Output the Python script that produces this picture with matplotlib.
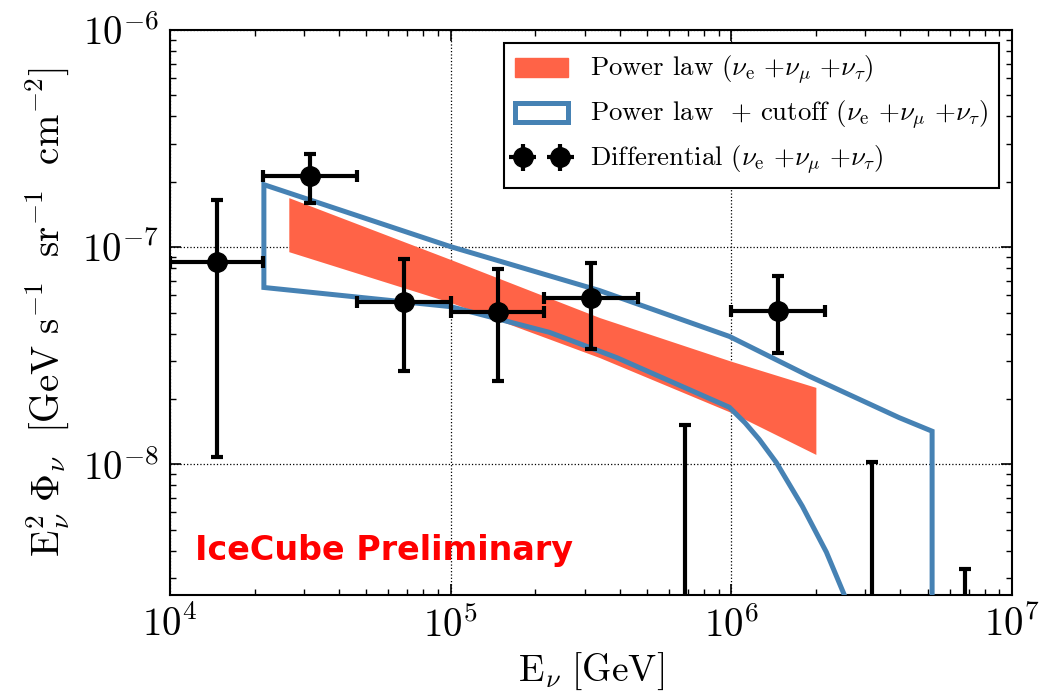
import matplotlib
matplotlib.use("Agg")
import matplotlib.pyplot as plt
import numpy as np
from matplotlib.patches import Patch

plt.rcParams['font.family'] = 'serif'
plt.rcParams['font.serif'] = ['cmr10', 'DejaVu Serif']
plt.rcParams['mathtext.fontset'] = 'cm'
plt.rcParams['axes.unicode_minus'] = False
plt.rcParams['axes.formatter.use_mathtext'] = True

# differential flux points (3 bins per decade)
bin_lo = [1.0e4, 2.15e4, 4.64e4, 1.0e5, 2.15e5, 1.0e6]
bin_hi = [2.15e4, 4.64e4, 1.0e5, 2.15e5, 4.64e5, 2.15e6]
pt_e = [1.47e4, 3.16e4, 6.81e4, 1.47e5, 3.16e5, 1.47e6]
pt_flux = [8.57e-8, 2.13e-7, 5.61e-8, 5.05e-8, 5.86e-8, 5.10e-8]
pt_up = [1.64e-7, 2.69e-7, 8.85e-8, 7.96e-8, 8.49e-8, 7.39e-8]
pt_down = [1.08e-8, 1.60e-7, 2.70e-8, 2.41e-8, 3.41e-8, 3.27e-8]

# upper limits
ul_e = [6.81e5, 3.16e6, 6.81e6]
ul_flux = [1.51e-8, 1.02e-8, 3.29e-9]

# power law band edges
pl_e = [2.65e4, 1.0e5, 3.39e5, 1.0e6, 2.0e6]
pl_hi = [1.69e-7, 8.77e-8, 4.74e-8, 2.98e-8, 2.26e-8]
pl_lo = [9.53e-8, 5.56e-8, 3.10e-8, 1.73e-8, 1.11e-8]

# power law + cutoff contour
cut_up_e = [2.16e4, 1.0e5, 3.39e5, 9.84e5, 1.90e6, 3.96e6, 5.19e6]
cut_up_f = [1.94e-7, 1.005e-7, 6.31e-8, 3.88e-8, 2.54e-8, 1.64e-8, 1.42e-8]
cut_lo_e = [2.16e4, 1.0e5, 2.25e5, 3.90e5, 9.84e5, 1.12e6, 1.258e6, 1.445e6, 1.79e6, 2.18e6, 2.52e6, 2.75e6]
cut_lo_f = [6.52e-8, 5.32e-8, 4.05e-8, 3.10e-8, 1.83e-8, 1.55e-8, 1.30e-8, 1.02e-8, 6.41e-9, 3.94e-9, 2.52e-9, 1.8e-9]

red = '#ff6347'
blue = '#4682b4'

fig = plt.figure(figsize=(10.54, 6.96), dpi=100)
ax = fig.add_axes([0.1613, 0.1451, 0.7989, 0.8118])

ax.fill_between(pl_e, pl_lo, pl_hi, color=red, lw=0, zorder=2)

poly_e = cut_lo_e + [5.19e6] + cut_up_e[::-1]
poly_f = cut_lo_f + [1.8e-9] + cut_up_f[::-1]
ax.fill(poly_e, poly_f, facecolor='none', edgecolor=blue, lw=3.6, zorder=3)

eb = dict(color='k', ms=14, elinewidth=3.0, capsize=4.5, capthick=3.0)
xerr = [np.array(pt_e) - np.array(bin_lo), np.array(bin_hi) - np.array(pt_e)]
yerr = [np.array(pt_flux) - np.array(pt_down), np.array(pt_up) - np.array(pt_flux)]
ax.errorbar(pt_e, pt_flux, xerr=xerr, yerr=yerr, fmt='o', zorder=5, **eb)

ul_lo = np.array(ul_flux) - 1e-11
ax.errorbar(ul_e, ul_flux, yerr=[ul_lo, np.zeros(3)], fmt='none', ecolor='k',
            elinewidth=3.0, capsize=4.5, capthick=3.0, zorder=5)

ax.set_xscale('log')
ax.set_yscale('log')
ax.set_xlim(1e4, 1e7)
ax.set_ylim(2.5e-9, 1e-6)

ax.grid(True, which='major', ls=':', color='k', lw=0.9)
ax.tick_params(which='both', direction='in', top=True, right=True, labelsize=28)
ax.tick_params(which='major', length=8, width=1.2, pad=8)
ax.tick_params(which='minor', length=4, width=1.0)
for s in ax.spines.values():
    s.set_linewidth(1.5)

ax.set_xlabel(r'$\mathrm{E}_{\nu}\ [\mathrm{GeV}]$', fontsize=27)
ax.set_ylabel(r'$\mathrm{E}_{\nu}^{2}\ \Phi_{\nu}\ \ [\mathrm{GeV\ s^{-1}\ \ sr^{-1}\ \ cm^{-2}}]$',
              fontsize=28, labelpad=8)

ax.text(0.03, 0.062, 'IceCube Preliminary', transform=ax.transAxes, color='red',
        fontsize=24, fontweight='bold', family='DejaVu Sans')

h_pl = Patch(facecolor=red, edgecolor=red)
h_cut = Patch(facecolor='white', edgecolor=blue, lw=3.6)
h_diff = ax.errorbar([], [], xerr=[], yerr=[], fmt='o', **eb)
leg = ax.legend([h_pl, h_cut, h_diff],
                [r'Power law ($\nu_{\rm e}$ +$\nu_{\mu}$ +$\nu_{\tau}$)',
                 r'Power law  + cutoff ($\nu_{\rm e}$ +$\nu_{\mu}$ +$\nu_{\tau}$)',
                 r'Differential ($\nu_{\rm e}$ +$\nu_{\mu}$ +$\nu_{\tau}$)'],
                loc='upper right', fontsize=19.3, numpoints=2, fancybox=False,
                framealpha=1, edgecolor='k', borderaxespad=0.5, labelspacing=0.45)
leg.get_frame().set_linewidth(1.5)

fig.savefig('out.png', dpi=100)
